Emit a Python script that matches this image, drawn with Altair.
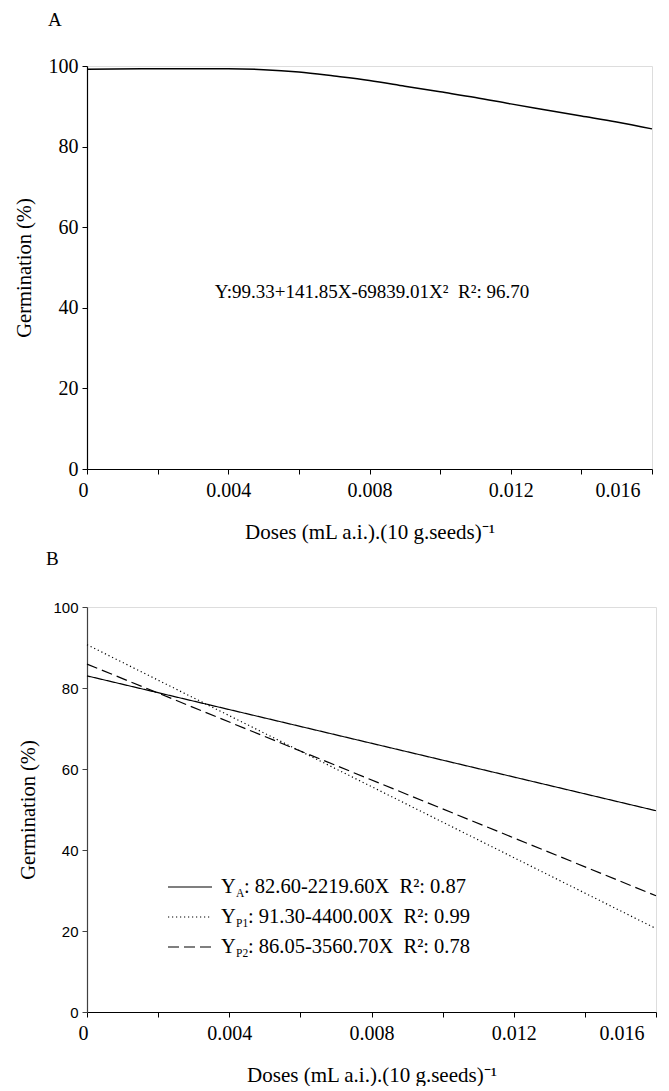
import altair as alt
import pandas as pd

# ---------------- data ----------------
dose_a = [0.000, 0.002, 0.004, 0.005, 0.006, 0.007, 0.008, 0.009, 0.010,
          0.011, 0.012, 0.013, 0.014, 0.015, 0.016]
germ_a = [99.2, 99.3, 99.3, 99.1, 98.5, 97.5, 96.4, 95.0, 93.6,
          92.2, 90.6, 89.1, 87.6, 86.1, 84.4]
eq_a = "Y:99.33+141.85X-69839.01X\u00b2\u00a0 R\u00b2: 96.70"

dose_b = [0.000, 0.016]
germ_ya = [83.0, 49.7]
germ_yp1 = [90.7, 20.6]
germ_yp2 = [85.9, 28.7]
series_b = ["YA", "YP1", "YP2"]
subs_b = ["A", "P1", "P2"]
eqs_b = [": 82.60-2219.60X\u00a0 R\u00b2: 0.87",
         ": 91.30-4400.00X\u00a0 R\u00b2: 0.99",
         ": 86.05-3560.70X\u00a0 R\u00b2: 0.78"]

x_ticks = [0.000, 0.002, 0.004, 0.006, 0.008, 0.010, 0.012, 0.014, 0.016]
y_ticks = [0, 20, 40, 60, 80, 100]
x_title = "Doses (mL a.i.).(10 g.seeds)\u207b\u00b9"
y_title = "Germination (%)"

SERIF = "Liberation Serif"
SANS = "Liberation Sans"

df_a = pd.DataFrame({"dose": dose_a, "germ": germ_a})
df_b = pd.concat([
    pd.DataFrame({"dose": dose_b, "germ": g, "series": s})
    for s, g in zip(series_b, [germ_ya, germ_yp1, germ_yp2])
])

xscale = alt.Scale(domain=[0, 0.016], nice=False, zero=True)
yscale = alt.Scale(domain=[0, 100], nice=False)

label_expr = ("datum.value == 0 ? '0' : (round(datum.value*500) % 2 == 0 ? "
              "format(datum.value, '.3f') : '')")


def x_axis():
    return alt.Axis(
        values=x_ticks, labelExpr=label_expr, title=x_title, grid=False,
        domainColor="black", tickColor="black", tickSize=5, domainWidth=1.2,
        labelFont=SERIF, labelFontSize=20, labelColor="black", labelPadding=6,
        labelOffset={"condition": [{"test": "datum.value == 0", "value": -9},
                                   {"test": "datum.value > 0.0159", "value": -12}],
                     "value": 0},
        titleFont=SERIF, titleFontSize=21, titleFontWeight="normal",
        titleColor="black", titlePadding=21)


def y_axis(font, size, dcolor):
    return alt.Axis(
        values=y_ticks, title=y_title, grid=False, domainColor=dcolor,
        tickColor=dcolor, tickSize=5, domainWidth=1.2,
        labelFont=font, labelFontSize=size, labelColor="black", labelPadding=4,
        titleFont=SERIF, titleFontSize=20.5, titleFontWeight="normal",
        titleColor="black", titlePadding=14)


# ---------------- panel A ----------------
line_a = alt.Chart(df_a).mark_line(color="black", strokeWidth=1.5,
                                   interpolate="monotone").encode(
    x=alt.X("dose:Q", scale=xscale, axis=x_axis()),
    y=alt.Y("germ:Q", scale=yscale, axis=y_axis(SERIF, 20, "black")),
)
text_a = alt.Chart(pd.DataFrame({"t": [eq_a]})).mark_text(
    font=SERIF, fontSize=19, color="black", align="center", baseline="middle"
).encode(text="t:N", x=alt.value(285), y=alt.value(226))

panel_a = alt.layer(line_a, text_a).properties(
    width=565, height=403,
    title=alt.TitleParams("A", anchor="start", frame="group", dx=-39,
                          font=SERIF, fontSize=19, fontWeight="normal",
                          color="black", offset=7, baseline="bottom"))

# ---------------- panel B ----------------
dash_scale = alt.Scale(domain=series_b, range=[[1, 0], [1.2, 2.8], [11, 5]])
line_b = alt.Chart(df_b).mark_line(color="black", strokeWidth=1.2).encode(
    x=alt.X("dose:Q", scale=xscale, axis=x_axis()),
    y=alt.Y("germ:Q", scale=yscale, axis=y_axis(SANS, 15, "#404040")),
    strokeDash=alt.StrokeDash("series:N", scale=dash_scale, legend=None),
    detail="series:N",
)

leg_df = pd.DataFrame({"series": series_b, "sub": subs_b, "eq": eqs_b,
                       "row": [0, 1, 2]})
leg_base = alt.Chart(leg_df).transform_calculate(
    py="280 + datum.row * 30",
    subw="datum.sub == 'A' ? 8 : 12",
)
leg_lines = leg_base.mark_rule(color="black", strokeWidth=1.2).encode(
    x=alt.value(81), x2=alt.value(125),
    y=alt.Y("py:Q", scale=None),
    strokeDash=alt.StrokeDash("series:N", scale=dash_scale, legend=None),
)
leg_y = leg_base.mark_text(font=SERIF, fontSize=20.5, color="black",
                           align="left", baseline="middle").encode(
    x=alt.value(134), y=alt.Y("py:Q", scale=None), text=alt.value("Y"))
leg_sub = leg_base.mark_text(font=SERIF, fontSize=11.5, color="black",
                             align="left", baseline="middle", dy=7).encode(
    x=alt.value(149), y=alt.Y("py:Q", scale=None), text="sub:N")
leg_eq = leg_base.transform_calculate(ex="149 + datum.subw").mark_text(
    font=SERIF, fontSize=20.5, color="black", align="left", baseline="middle"
).encode(x=alt.X("ex:Q", scale=None), y=alt.Y("py:Q", scale=None), text="eq:N")

panel_b = alt.layer(line_b, leg_lines, leg_y, leg_sub, leg_eq).properties(
    width=569, height=405,
    title=alt.TitleParams("B", anchor="start", frame="group", dx=-41,
                          font=SERIF, fontSize=19, fontWeight="normal",
                          color="black", offset=12, baseline="bottom"))

chart = alt.vconcat(panel_a, panel_b, spacing=6).configure_view(
    stroke=None).configure(background="white", padding={"left": 13, "top": 10,
                                                        "right": 5, "bottom": 0})

chart.save("out.html", embed_options={"renderer": "svg", "actions": False})
